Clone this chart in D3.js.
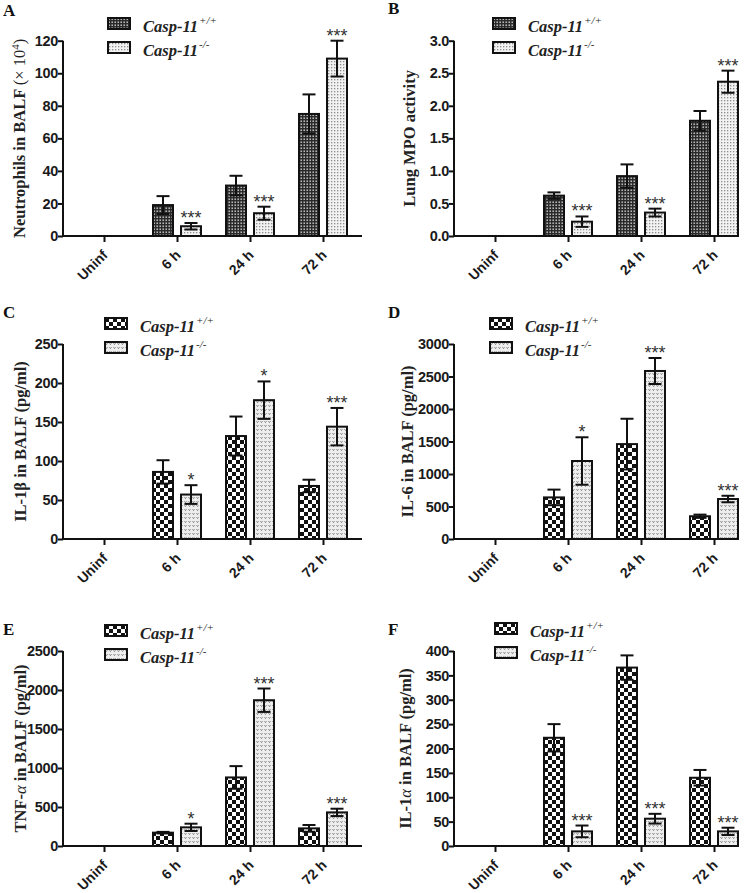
<!DOCTYPE html>
<html><head><meta charset="utf-8">
<script src="https://cdn.jsdelivr.net/npm/d3@7/dist/d3.min.js"></script>
<style>
html,body{margin:0;padding:0;background:#fff;}
svg{display:block;}
</style></head>
<body>
<svg id="fig" width="750" height="893"></svg>
<script>
// ---------- data ----------
const categories = ["Uninf", "6 h", "24 h", "72 h"];
const seriesNames = ["Casp-11", "Casp-11"];
const seriesSup = ["+/+", "-/-"];

// A: Neutrophils
const neutroWT = [0, 19, 31, 75];
const neutroWTErr = [0, 5.5, 6, 12];
const neutroKO = [0, 6, 14, 109];
const neutroKOErr = [0, 2, 4, 11];
const neutroStars = ["", "***", "***", "***"];
const neutroTicks = [0, 20, 40, 60, 80, 100, 120];

// B: Lung MPO
const mpoWT = [0, 0.62, 0.92, 1.77];
const mpoWTErr = [0, 0.05, 0.18, 0.15];
const mpoKO = [0, 0.22, 0.36, 2.37];
const mpoKOErr = [0, 0.08, 0.06, 0.17];
const mpoStars = ["", "***", "***", "***"];
const mpoTicks = [0, 0.5, 1.0, 1.5, 2.0, 2.5, 3.0];

// C: IL-1beta
const il1bWT = [0, 86, 132, 68];
const il1bWTErr = [0, 15, 25, 8];
const il1bKO = [0, 57, 178, 144];
const il1bKOErr = [0, 12, 24, 24];
const il1bStars = ["", "*", "*", "***"];
const il1bTicks = [0, 50, 100, 150, 200, 250];

// D: IL-6
const il6WT = [0, 640, 1460, 350];
const il6WTErr = [0, 120, 390, 25];
const il6KO = [0, 1200, 2585, 615];
const il6KOErr = [0, 365, 200, 50];
const il6Stars = ["", "*", "***", "***"];
const il6Ticks = [0, 500, 1000, 1500, 2000, 2500, 3000];

// E: TNF-alpha
const tnfWT = [0, 171, 879, 226];
const tnfWTErr = [0, 10, 145, 43];
const tnfKO = [0, 239, 1869, 431];
const tnfKOErr = [0, 47, 150, 47];
const tnfStars = ["", "*", "***", "***"];
const tnfTicks = [0, 500, 1000, 1500, 2000, 2500];

// F: IL-1alpha
const il1aWT = [0, 222, 366, 140];
const il1aWTErr = [0, 28, 25, 16];
const il1aKO = [0, 30, 56, 30];
const il1aKOErr = [0, 12, 10, 7.5];
const il1aStars = ["", "***", "***", "***"];
const il1aTicks = [0, 50, 100, 150, 200, 250, 300, 350, 400];

// ---------- drawing ----------
const svg = d3.select("#fig");
const defs = svg.append("defs");

// fine dark checker (A,B wild-type)
const p1 = defs.append("pattern").attr("id", "darkFine").attr("patternUnits", "userSpaceOnUse")
  .attr("width", 3).attr("height", 3);
p1.append("rect").attr("width", 3).attr("height", 3).attr("fill", "#2a2a2a");
p1.append("rect").attr("x", 0.5).attr("y", 0.5).attr("width", 1.4).attr("height", 1.4).attr("fill", "#d8d8d8");

// light dotted (A,B knock-out)
const p2 = defs.append("pattern").attr("id", "lightFine").attr("patternUnits", "userSpaceOnUse")
  .attr("width", 3).attr("height", 3);
p2.append("rect").attr("width", 3).attr("height", 3).attr("fill", "#f2f2f2");
p2.append("rect").attr("x", 1).attr("y", 1).attr("width", 1.3).attr("height", 1.3).attr("fill", "#8c8c8c");

// large checkerboard (C-F wild-type)
const p3 = defs.append("pattern").attr("id", "checker").attr("patternUnits", "userSpaceOnUse")
  .attr("width", 8).attr("height", 8);
p3.append("rect").attr("width", 8).attr("height", 8).attr("fill", "#fff");
p3.append("rect").attr("x", 0).attr("y", 0).attr("width", 4).attr("height", 4).attr("fill", "#111");
p3.append("rect").attr("x", 4).attr("y", 4).attr("width", 4).attr("height", 4).attr("fill", "#111");

// light squiggle (C-F knock-out)
const p4 = defs.append("pattern").attr("id", "lightWave").attr("patternUnits", "userSpaceOnUse")
  .attr("width", 4).attr("height", 4);
p4.append("rect").attr("width", 4).attr("height", 4).attr("fill", "#eeeeee");
p4.append("path").attr("d", "M0.5,1.2 L1.5,2.6 L2.5,1.2").attr("fill", "none").attr("stroke", "#777").attr("stroke-width", 0.9);

const panels = [
  {letter: "A", lx: 3, ly: 16, ox: 63, xEnd: 362, yBase: 236, yTop: 40.7, max: 120, ticks: neutroTicks, fmt: d3.format("d"),
   wt: neutroWT, wtE: neutroWTErr, ko: neutroKO, koE: neutroKOErr, stars: neutroStars,
   fills: ["url(#darkFine)", "url(#lightFine)"], legX: 108, legY: 18, labX: 25,
   ylab: [{t: "Neutrophils in BALF ", w: "bold"}, {t: "(× 10", w: "normal"}, {t: "4", w: "normal", sup: true}, {t: ")", w: "normal", back: true}]},
  {letter: "B", lx: 388, ly: 14, ox: 454, xEnd: 737, yBase: 236, yTop: 40.7, max: 3, ticks: mpoTicks, fmt: d3.format(".1f"),
   wt: mpoWT, wtE: mpoWTErr, ko: mpoKO, koE: mpoKOErr, stars: mpoStars,
   fills: ["url(#darkFine)", "url(#lightFine)"], legX: 493, legY: 18, labX: 415,
   ylab: [{t: "Lung MPO activity", w: "bold"}]},
  {letter: "C", lx: 3, ly: 318, ox: 63, xEnd: 362, yBase: 539, yTop: 344, max: 250, ticks: il1bTicks, fmt: d3.format("d"),
   wt: il1bWT, wtE: il1bWTErr, ko: il1bKO, koE: il1bKOErr, stars: il1bStars,
   fills: ["url(#checker)", "url(#lightWave)"], legX: 105, legY: 318, labX: 26,
   ylab: [{t: "IL-1β  in BALF (pg/ml)", w: "bold"}]},
  {letter: "D", lx: 388, ly: 318, ox: 454, xEnd: 737, yBase: 539, yTop: 344, max: 3000, ticks: il6Ticks, fmt: d3.format("d"),
   wt: il6WT, wtE: il6WTErr, ko: il6KO, koE: il6KOErr, stars: il6Stars,
   fills: ["url(#checker)", "url(#lightWave)"], legX: 490, legY: 318, labX: 413,
   ylab: [{t: "IL-6 in BALF (pg/ml)", w: "bold"}]},
  {letter: "E", lx: 3, ly: 635, ox: 63, xEnd: 362, yBase: 846, yTop: 651, max: 2500, ticks: tnfTicks, fmt: d3.format("d"),
   wt: tnfWT, wtE: tnfWTErr, ko: tnfKO, koE: tnfKOErr, stars: tnfStars,
   fills: ["url(#checker)", "url(#lightWave)"], legX: 105, legY: 625, labX: 26,
   ylab: [{t: "TNF-", w: "bold"}, {t: "α", w: "normal", it: true}, {t: " in BALF (pg/ml)", w: "bold"}]},
  {letter: "F", lx: 388, ly: 635, ox: 454, xEnd: 737, yBase: 846, yTop: 651, max: 400, ticks: il1aTicks, fmt: d3.format("d"),
   wt: il1aWT, wtE: il1aWTErr, ko: il1aKO, koE: il1aKOErr, stars: il1aStars,
   fills: ["url(#checker)", "url(#lightWave)"], legX: 495, legY: 623, labX: 411,
   ylab: [{t: "IL-1", w: "bold"}, {t: "α", w: "normal", it: true}, {t: "  in BALF (pg/ml)", w: "bold"}]}
];

const sans = "'Liberation Sans', Arial, sans-serif";
const serif = "'Liberation Serif', 'Times New Roman', serif";

panels.forEach(p => {
  const g = svg.append("g");
  const x = d3.scalePoint().domain(categories).range([p.ox + 41, p.ox + 41 + 3 * 73]);
  const xs = d3.scaleBand().domain([0, 1]).range([-24, 24]).paddingInner(0.286).paddingOuter(0);
  const y = d3.scaleLinear().domain([0, p.max]).range([p.yBase, p.yTop]);

  // panel letter
  g.append("text").attr("x", p.lx).attr("y", p.ly).text(p.letter)
    .attr("font-family", serif).attr("font-weight", "bold").attr("font-size", 17).attr("fill", "#111");

  // bars
  const series = [{v: p.wt, e: p.wtE}, {v: p.ko, e: p.koE}];
  series.forEach((s, si) => {
    categories.forEach((c, ci) => {
      const val = s.v[ci];
      if (val <= 0) return;
      const bx = x(c) + xs(si);
      const bw = xs.bandwidth();
      g.append("rect").attr("x", bx).attr("y", y(val)).attr("width", bw).attr("height", y(0) - y(val))
        .attr("fill", p.fills[si]).attr("stroke", "#111").attr("stroke-width", 2);
      const err = s.e[ci];
      if (err > 0) {
        const cx = bx + bw / 2;
        const eg = g.append("g").attr("stroke", "#111").attr("stroke-width", 2).attr("fill", "none");
        eg.append("line").attr("x1", cx).attr("x2", cx).attr("y1", y(val - err)).attr("y2", y(val + err));
        eg.append("line").attr("x1", cx - 6.5).attr("x2", cx + 6.5).attr("y1", y(val + err)).attr("y2", y(val + err));
        eg.append("line").attr("x1", cx - 6.5).attr("x2", cx + 6.5).attr("y1", y(val - err)).attr("y2", y(val - err));
      }
      if (si === 1 && p.stars[ci]) {
        g.append("text").attr("x", bx + bw / 2).attr("y", y(val + err) + 1).attr("text-anchor", "middle")
          .attr("font-family", sans).attr("font-size", 18).attr("fill", "#333").text(p.stars[ci]);
      }
    });
  });

  // y axis
  const ya = g.append("g").attr("transform", `translate(${p.ox},0)`)
    .call(d3.axisLeft(y).tickValues(p.ticks).tickFormat(p.fmt).tickSize(5).tickSizeOuter(0));
  ya.select(".domain").attr("stroke", "#111").attr("stroke-width", 2).attr("d", `M0,${p.yBase}V${p.yTop}`);
  ya.selectAll(".tick line").attr("stroke", "#111").attr("stroke-width", 2);
  ya.selectAll(".tick text").attr("font-family", sans).attr("font-weight", "bold").attr("font-size", 14.5)
    .attr("fill", "#1a1a1a").attr("x", -5).attr("letter-spacing", -0.3);

  // x axis
  const xa = g.append("g").attr("transform", `translate(0,${p.yBase})`)
    .call(d3.axisBottom(x).tickSize(6).tickSizeOuter(0));
  xa.select(".domain").remove();
  xa.append("line").attr("x1", p.ox).attr("x2", p.xEnd).attr("y1", 0).attr("y2", 0)
    .attr("stroke", "#111").attr("stroke-width", 2);
  xa.selectAll(".tick line").attr("stroke", "#111").attr("stroke-width", 2);
  xa.selectAll(".tick text").attr("font-family", sans).attr("font-weight", "bold").attr("font-size", 14)
    .attr("fill", "#1a1a1a").attr("text-anchor", "end").attr("y", 0).attr("dy", 0)
    .attr("transform", "translate(4,20) rotate(-45)");

  // y label
  const cy = (p.yBase + p.yTop) / 2;
  const yl = g.append("text").attr("transform", `translate(${p.labX},${cy}) rotate(-90)`)
    .attr("text-anchor", "middle").attr("font-family", serif).attr("font-size", 16.5).attr("fill", "#222");
  p.ylab.forEach(part => {
    const ts = yl.append("tspan").text(part.t).attr("font-weight", part.w);
    if (part.it) ts.attr("font-style", "italic");
    if (part.sup) ts.attr("dy", -6).attr("font-size", 11);
    if (part.back) ts.attr("dy", 6);
  });

  // legend
  const lg = g.append("g").attr("transform", `translate(${p.legX},${p.legY})`);
  [0, 1].forEach(i => {
    lg.append("rect").attr("x", 0).attr("y", i * 24).attr("width", 22).attr("height", 11)
      .attr("fill", p.fills[i]).attr("stroke", "#111").attr("stroke-width", 2);
    const t = lg.append("text").attr("x", 35).attr("y", i * 24 + 14)
      .attr("font-family", serif).attr("font-weight", "bold").attr("font-style", "italic")
      .attr("font-size", 16.5).attr("fill", "#222");
    t.append("tspan").text(seriesNames[i]);
    t.append("tspan").text(seriesSup[i]).attr("dx", 1).attr("dy", -8).attr("font-size", 11).attr("font-weight", "normal");
  });
});
</script>
</body></html>
